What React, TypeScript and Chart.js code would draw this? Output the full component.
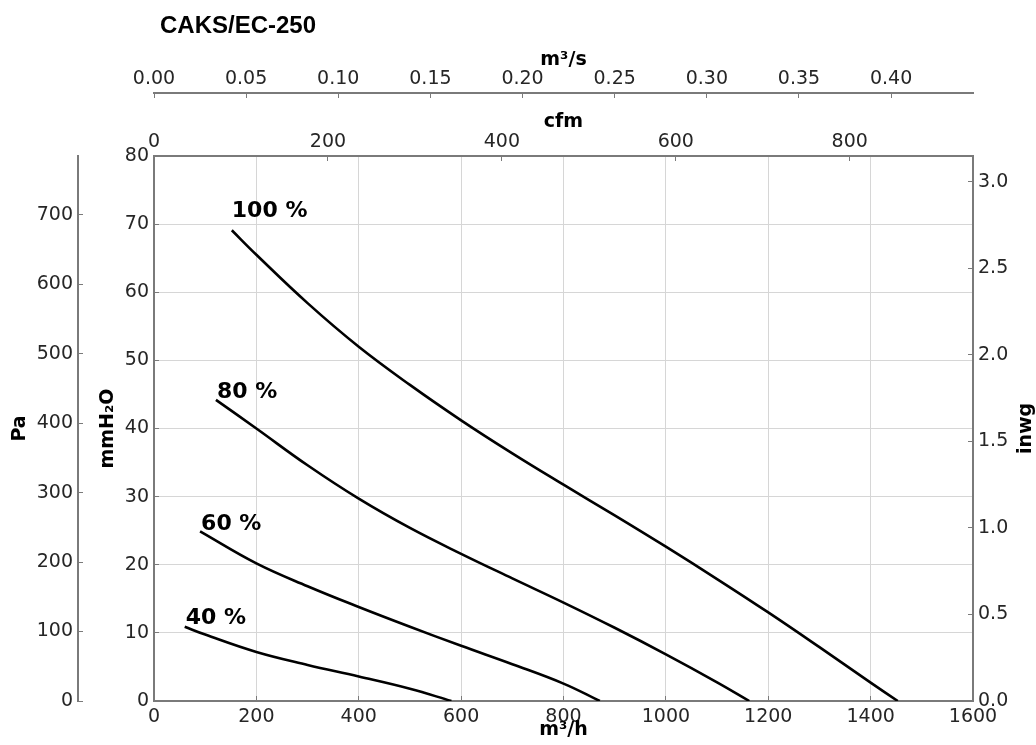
import React, { useEffect, useRef } from "react";
import { Chart, registerables } from "chart.js";

Chart.register(...registerables);

// ---- data (m³/h vs mmH2O) ----
const chartTitle = "CAKS/EC-250";
const speedLabels = ["100 %", "80 %", "60 %", "40 %"];

const flow100 = [152, 200, 300, 400, 500, 600, 700, 800, 900, 1000, 1100, 1200, 1300, 1400, 1453];
const press100 = [69.1, 65.5, 58.4, 52.0, 46.4, 41.2, 36.35, 31.75, 27.25, 22.65, 17.9, 13.0, 7.9, 2.7, 0];

const flow80 = [121, 200, 300, 400, 500, 600, 700, 800, 900, 1000, 1100, 1163];
const press80 = [44.2, 40.0, 34.6, 29.7, 25.4, 21.6, 18.0, 14.45, 10.75, 6.85, 2.75, 0];

const flow60 = [90, 200, 300, 400, 500, 600, 700, 800, 871];
const press60 = [24.9, 20.2, 16.85, 13.8, 10.9, 8.1, 5.4, 2.55, 0];

const flow40 = [60, 100, 200, 300, 400, 500, 581];
const press40 = [10.9, 9.75, 7.2, 5.3, 3.6, 1.8, 0];

// label anchor (left / baseline) in data units
const labelFlow = [152, 123, 92, 62];
const labelPress = [71.0, 44.5, 25.1, 11.3];

// axis ranges / ticks
const flowMax = 1600; // m³/h
const pressMax = 80; // mmH2O
const PA_PER_MMH2O = 9.80665;
const MMH2O_PER_INWG = 25.4;
const M3H_PER_CFM = 1.699011;
const SEC_PER_H = 3600;

const tickFont = { family: "'DejaVu Sans', sans-serif", size: 19 };
const tickColor = "#262626";
const axisColor = "#7a7a7a";
const gridColor = "#d6d6d6";

const toPts = (xs: number[], ys: number[]) => xs.map((x, i) => ({ x, y: ys[i] }));
const intLabel = (v: any) => String(Math.round(Number(v)));

const curve = (label: string, xs: number[], ys: number[]) => ({
  label,
  data: toPts(xs, ys),
  borderColor: "#000",
  borderWidth: 2.6,
  pointRadius: 0,
  fill: false,
  tension: 0.4,
  xAxisID: "x",
  yAxisID: "y",
});

const auxGrid = {
  drawOnChartArea: false,
  drawTicks: true,
  tickLength: -5,
  tickColor: axisColor,
  tickWidth: 1,
};
const border = { display: true, color: axisColor, width: 2 };

const overlay = {
  id: "overlay",
  afterDraw(chart: any) {
    const ctx = chart.ctx as CanvasRenderingContext2D;
    const a = chart.chartArea;
    const cx = (a.left + a.right) / 2;
    const cy = (a.top + a.bottom) / 2;
    ctx.save();
    ctx.fillStyle = "#000";
    ctx.textBaseline = "alphabetic";

    // chart title
    ctx.font = "bold 24px 'Liberation Sans', Arial, sans-serif";
    ctx.textAlign = "left";
    ctx.fillText(chartTitle, 160, 33);

    // axis titles
    ctx.font = "bold 19px 'DejaVu Sans', sans-serif";
    ctx.textAlign = "center";
    ctx.fillText("m³/s", cx, 65);
    ctx.fillText("cfm", cx, 127);
    ctx.fillText("m³/h", cx, 735);

    const vtext = (t: string, x: number) => {
      ctx.save();
      ctx.translate(x, cy);
      ctx.rotate(-Math.PI / 2);
      ctx.fillText(t, 0, 0);
      ctx.restore();
    };
    vtext("Pa", 25);
    vtext("mmH₂O", 113);
    vtext("inwg", 1031);

    // speed labels
    const xs = chart.scales.x;
    const ys = chart.scales.y;
    ctx.font = "bold 22px 'DejaVu Sans', sans-serif";
    ctx.textAlign = "left";
    speedLabels.forEach((t, i) => {
      ctx.fillText(t, xs.getPixelForValue(labelFlow[i]), ys.getPixelForValue(labelPress[i]));
    });
    ctx.restore();
  },
};

export default function App() {
  const ref = useRef<HTMLCanvasElement>(null);
  useEffect(() => {
    const chart = new Chart(ref.current!, {
      type: "line",
      data: {
        datasets: [
          curve(speedLabels[0], flow100, press100),
          curve(speedLabels[1], flow80, press80),
          curve(speedLabels[2], flow60, press60),
          curve(speedLabels[3], flow40, press40),
        ],
      },
      options: {
        responsive: false,
        animation: false,
        devicePixelRatio: 1,
        layout: { padding: 0 },
        plugins: { legend: { display: false }, tooltip: { enabled: false }, title: { display: false } },
        scales: {
          x: {
            type: "linear",
            position: "bottom",
            min: 0,
            max: flowMax,
            ticks: { stepSize: 200, padding: 10, font: tickFont, color: tickColor, maxRotation: 0, autoSkip: false, callback: intLabel },
            grid: { color: gridColor, lineWidth: 1, drawTicks: true, tickLength: -5, tickColor: axisColor, tickWidth: 1 },
            border,
            afterFit: (s: any) => { s.height = 44; },
          },
          y: {
            type: "linear",
            position: "left",
            weight: 0,
            min: 0,
            max: pressMax,
            ticks: { stepSize: 10, padding: 10, font: tickFont, color: tickColor, callback: intLabel },
            grid: { color: gridColor, lineWidth: 1, drawTicks: true, tickLength: -5, tickColor: axisColor, tickWidth: 1 },
            border,
            afterFit: (s: any) => { s.width = 76; },
          },
          pa: {
            type: "linear",
            position: "left",
            weight: 1,
            min: 0,
            max: pressMax * PA_PER_MMH2O,
            ticks: { stepSize: 100, padding: 10, font: tickFont, color: tickColor, includeBounds: false, callback: intLabel },
            grid: auxGrid,
            border,
            afterFit: (s: any) => { s.width = 78; },
          },
          inwg: {
            type: "linear",
            position: "right",
            min: 0,
            max: pressMax / MMH2O_PER_INWG,
            ticks: {
              stepSize: 0.5, padding: 10, font: tickFont, color: tickColor, includeBounds: false,
              callback: (v: any) => Number(v).toFixed(1),
            },
            grid: auxGrid,
            border,
            afterFit: (s: any) => { s.width = 63; },
          },
          cfm: {
            type: "linear",
            position: "top",
            weight: 0,
            min: 0,
            max: flowMax / M3H_PER_CFM,
            ticks: { stepSize: 200, padding: 8, font: tickFont, color: tickColor, includeBounds: false, maxRotation: 0, autoSkip: false, callback: intLabel },
            grid: auxGrid,
            border,
            afterFit: (s: any) => { s.height = 63; },
          },
          m3s: {
            type: "linear",
            position: "top",
            weight: 1,
            min: 0,
            max: flowMax / SEC_PER_H,
            ticks: {
              stepSize: 0.05, padding: 8, font: tickFont, color: tickColor, includeBounds: false, maxRotation: 0, autoSkip: false,
              callback: (v: any) => Number(v).toFixed(2),
            },
            grid: auxGrid,
            border,
            afterFit: (s: any) => { s.height = 93; },
          },
        },
      } as any,
      plugins: [overlay],
    });
    return () => chart.destroy();
  }, []);
  return (
    <div style={{ position: "absolute", left: 0, top: 0, width: 1036, height: 745, background: "#fff" }}>
      <canvas ref={ref} width={1036} height={745} style={{ display: "block", width: 1036, height: 745 }} />
    </div>
  );
}
